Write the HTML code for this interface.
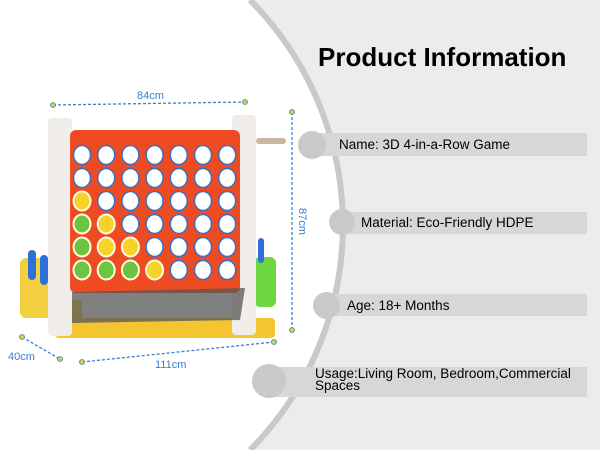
<!DOCTYPE html>
<html style="overflow:hidden"><head><style>
html,body{margin:0;width:600px;height:450px;overflow:hidden}
body{background:#ececec;font-family:"Liberation Sans",sans-serif;position:relative}
.bar{position:absolute;background:#d7d7d7;font-size:13px;color:#111}
.dot{position:absolute;border-radius:50%;background:#c9c9c9}
.t{position:absolute;white-space:nowrap}
</style></head><body>
<svg width="600" height="450" style="position:absolute;left:0;top:0">
<path d="M0 0 L250 0 A319 319 0 0 1 250 450 L0 450 Z" fill="#fff"/>
<path d="M250 0 A319 319 0 0 1 250 450" fill="none" stroke="#c9c9c9" stroke-width="6"/>
</svg>
<div class="bar" style="left:318px;width:269px;top:133px;height:23px"></div>
<div class="bar" style="left:340px;width:247px;top:212px;height:22px"></div>
<div class="bar" style="left:325px;width:262px;top:294px;height:22px"></div>
<div class="bar" style="left:270px;width:317px;top:367px;height:30px"></div>
<div class="dot" style="left:298px;top:131px;width:28px;height:28px"></div>
<div class="dot" style="left:329px;top:209px;width:26px;height:26px"></div>
<div class="dot" style="left:313px;top:292px;width:27px;height:27px"></div>
<div class="dot" style="left:252px;top:364px;width:34px;height:34px"></div>
<div class="t" style="left:318px;top:42px;font-size:26px;font-weight:bold;color:#000">Product Information</div>
<div class="t" style="left:339px;top:137px;font-size:13.5px">Name: 3D 4-in-a-Row Game</div>
<div class="t" style="left:361px;top:215px;font-size:13.5px">Material: Eco-Friendly HDPE</div>
<div class="t" style="left:347px;top:298px;font-size:13.5px">Age: 18+ Months</div>
<div class="t" style="left:315px;top:368px;font-size:13.5px;line-height:12px">Usage:Living Room, Bedroom,Commercial<br>Spaces</div>
<svg width="600" height="450" style="position:absolute;left:0;top:0">
<g stroke="#3a7fd0" stroke-width="1.3" stroke-dasharray="3,2" fill="none">
<line x1="53" y1="105" x2="245" y2="102"/>
<line x1="292" y1="112" x2="292" y2="330"/>
<line x1="82" y1="362" x2="274" y2="342"/>
<line x1="22" y1="337" x2="60" y2="359"/>
</g>
<g fill="#d8d030" stroke="#3a7fd0" stroke-width="0.8">
<circle cx="53" cy="105" r="2.5"/><circle cx="245" cy="102" r="2.5"/>
<circle cx="292" cy="112" r="2.5"/><circle cx="292" cy="330" r="2.5"/>
<circle cx="82" cy="362" r="2.5"/><circle cx="274" cy="342" r="2.5"/>
<circle cx="22" cy="337" r="2.5"/><circle cx="60" cy="359" r="2.5"/>
</g>
<g fill="#3a7fd0" font-family="Liberation Sans" font-size="11">
<text x="137" y="99">84cm</text>
<text x="155" y="368">111cm</text>
<text x="8" y="360">40cm</text>
<text transform="translate(299,208) rotate(90)">87cm</text>
</g>
<rect x="52" y="300" width="30" height="35" fill="#f3d040"/>
<rect x="20" y="258" width="40" height="60" rx="6" fill="#f3d040"/>
<rect x="28" y="250" width="8" height="30" rx="4" fill="#2e6fd8"/>
<rect x="40" y="255" width="8" height="30" rx="4" fill="#2e6fd8"/>
<rect x="254" y="257" width="22" height="50" rx="6" fill="#6ed640"/>
<rect x="258" y="238" width="6" height="25" rx="3" fill="#2e6fd8"/>
<rect x="55" y="318" width="220" height="20" rx="4" fill="#f5c531"/>
<rect x="48" y="118" width="24" height="218" rx="4" fill="#f1eeea"/>
<rect x="232" y="115" width="24" height="220" rx="4" fill="#f1eeea"/>
<rect x="70" y="130" width="170" height="163" rx="6" fill="#ee4b22"/>
<path d="M72 292 L245 288 L240 320 L72 323 Z" fill="#555" opacity="0.75"/>
<rect x="256" y="138" width="30" height="6" rx="3" fill="#c9b89e"/>
<g id="holes"></g>
</svg>
<script>
var g=document.getElementById('holes'),ns='http://www.w3.org/2000/svg';
var fill={'2,0':'y','3,0':'g','3,1':'y','4,0':'g','4,1':'y','4,2':'y','5,0':'g','5,1':'g','5,2':'g','5,3':'y'};
for(var r=0;r<6;r++)for(var c=0;c<7;c++){var e=document.createElementNS(ns,'ellipse');
e.setAttribute('cx',82+c*24.2);e.setAttribute('cy',155+r*23);e.setAttribute('rx',8.5);e.setAttribute('ry',9.5);
var f=fill[r+','+c];e.setAttribute('fill',f=='y'?'#f6d22a':f=='g'?'#6cc440':'#fff');
e.setAttribute('stroke',f?'#fffbe0':'#3a6fc0');e.setAttribute('stroke-width',f?2:1.5);g.appendChild(e);}
</script>
</body></html>
